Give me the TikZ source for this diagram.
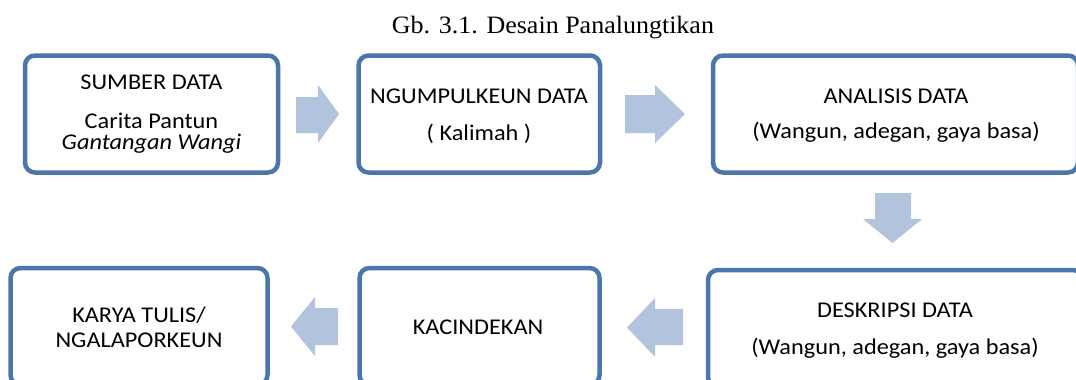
\documentclass[tikz,border=0pt]{standalone}
\usepackage{fontspec}
\setmainfont{Carlito}[FakeStretch=1.08]
\newfontfamily\titlefont{Liberation Serif}[FakeStretch=1.04]
\definecolor{boxblue}{RGB}{74,118,172}
\definecolor{arrowfill}{RGB}{178,195,222}
\begin{document}
\begin{tikzpicture}[x=1pt,y=-1pt,
  box/.style={draw=boxblue,line width=4.5pt,rounded corners=10pt,inner sep=0pt,fill=white,minimum height=117pt},
  lbl/.style={anchor=base,inner sep=0pt,font=\fontsize{22.5}{27}\selectfont},
  blk/.style={fill=arrowfill,draw=none}]
\clip (0,0) rectangle (1076,380);
\fill[white] (0,0) rectangle (1076,380);
% title
\node[anchor=base,inner sep=0pt,font=\titlefont\fontsize{25}{30}\selectfont] (title) at (553,33) {Gb. 3.1. Desain Panalungtikan};
% boxes
\node[box,minimum width=253pt] (b1) at (151.5,114) {};
\node[box,minimum width=241.5pt] (b2) at (479.25,114) {};
\node[box,minimum width=365pt] (b3) at (895.5,114) {};
\node[box,minimum width=257pt] (b4) at (139,326.5) {};
\node[box,minimum width=240pt] (b5) at (479.5,326.5) {};
\node[box,minimum width=375pt] (b6) at (895.5,328.5) {};
% texts
\node[lbl] (t1a) at (151.5,89) {SUMBER DATA};
\node[lbl] (t1b) at (151.5,128) {Carita Pantun};
\node[lbl] (t1c) at (151.5,149) {\itshape Gantangan Wangi};
\node[lbl] (t2a) at (479,103) {NGUMPULKEUN DATA};
\node[lbl] (t2b) at (479,140) {( Kalimah )};
\node[lbl] (t3a) at (896,103) {ANALISIS DATA};
\node[lbl] (t3b) at (896,138) {(Wangun, adegan, gaya basa)};
\node[lbl] (t4a) at (139,322) {KARYA TULIS/};
\node[lbl] (t4b) at (139,347) {NGALAPORKEUN};
\node[lbl] (t5a) at (478,334) {KACINDEKAN};
\node[lbl] (t6a) at (895,317) {DESKRIPSI DATA};
\node[lbl] (t6b) at (895,354) {(Wangun, adegan, gaya basa)};
% block arrows
\fill[blk] (296,97)--(318,97)--(318,85)--(339,114)--(318,143)--(318,133)--(296,133)--cycle;
\fill[blk] (625,95)--(655,95)--(655,85)--(685,114)--(655,143)--(655,133)--(625,133)--cycle;
\fill[blk] (875,193)--(911,193)--(911,219)--(922,219)--(892.5,243)--(863,219)--(875,219)--cycle;
\fill[blk] (338,308)--(315,308)--(315,297)--(291,326.5)--(315,356)--(315,345)--(338,345)--cycle;
\fill[blk] (683,309)--(655,309)--(655,298)--(627,327.5)--(655,357)--(655,345)--(683,345)--cycle;
\end{tikzpicture}
\end{document}
